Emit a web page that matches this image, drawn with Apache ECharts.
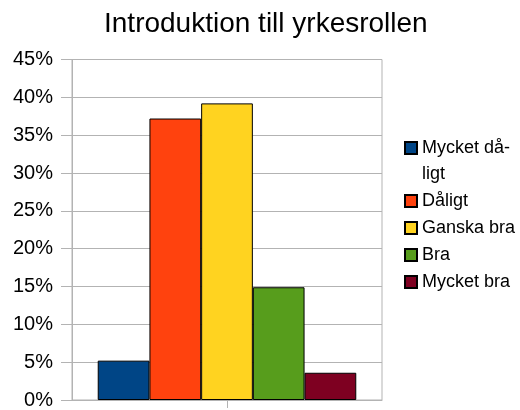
<!DOCTYPE html>
<html>
<head>
<meta charset="utf-8">
<script src="https://cdn.jsdelivr.net/npm/echarts@6/dist/echarts.min.js"></script>
<style>
  html, body { margin: 0; padding: 0; background: #fff; }
  #chart { width: 520px; height: 410px; }
</style>
</head>
<body>
<div id="chart"></div>
<script>
// data
const titleText = 'Introduktion till yrkesrollen'
const categories = ['']
const seriesNames = ['Mycket dåligt', 'Dåligt', 'Ganska bra', 'Bra', 'Mycket bra']
const seriesValues = [5.2, 37.2, 39.2, 14.9, 3.6]
const colors = ['#004586', '#ff420e', '#ffd320', '#579d1c', '#7e0021']
const yMin = 0
const yMax = 45
const yStep = 5

const font = 'Liberation Sans'
const gridColor = '#b3b3b3'

const chart = echarts.init(document.getElementById('chart'))

const series = seriesNames.map((name, i) => ({
  name: name,
  type: 'bar',
  data: [seriesValues[i]],
  barGap: '0%',
  barCategoryGap: '16.6%',
  itemStyle: {
    color: colors[i],
    borderColor: '#000',
    borderWidth: 1
  },
  animation: false
}))

const option = {
  title: {
    text: titleText,
    left: 104,
    top: 10,
    padding: 0,
    textStyle: {
      fontFamily: font,
      fontSize: 28,
      fontWeight: 'normal',
      color: '#000'
    }
  },
  legend: {
    orient: 'vertical',
    left: 404,
    top: 109,
    padding: 0,
    itemWidth: 12,
    itemHeight: 12,
    itemGap: 1,
    icon: 'rect',
    // long name wraps like the original, square stays on the first line
    formatter: (name) => name === 'Mycket dåligt' ? ' \nMycket då-\nligt' : name,
    textStyle: {
      fontFamily: font,
      fontSize: 18,
      lineHeight: 26,
      color: '#000'
    },
    data: seriesNames
  },
  grid: {
    left: 72,
    right: 138,
    top: 59.5,
    bottom: 8,
    show: true,
    borderColor: gridColor,
    borderWidth: 1,
    backgroundColor: 'transparent'
  },
  xAxis: {
    type: 'category',
    data: categories,
    axisLine: {lineStyle: {color: gridColor}},
    axisTick: {show: true, alignWithLabel: true, length: 8, lineStyle: {color: gridColor}},
    axisLabel: {show: false},
    splitLine: {show: false}
  },
  yAxis: {
    type: 'value',
    min: yMin,
    max: yMax,
    interval: yStep,
    axisLine: {show: true, lineStyle: {color: gridColor}},
    axisTick: {show: true, length: 11, lineStyle: {color: gridColor}},
    axisLabel: {
      formatter: '{value}%',
      margin: 19,
      fontFamily: font,
      fontSize: 20,
      color: '#000'
    },
    splitLine: {lineStyle: {color: gridColor}}
  },
  series: series
}

chart.setOption(option)
</script>
</body>
</html>
